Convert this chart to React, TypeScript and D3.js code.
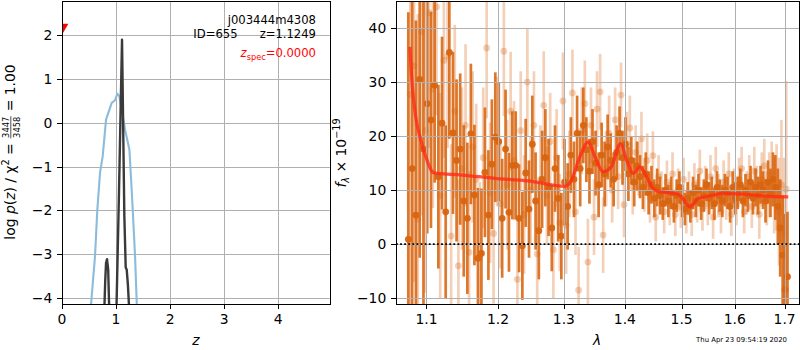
import React, { useEffect, useRef } from 'react';
import * as d3 from 'd3';

const W = 800;
const H = 350;
const FONT = 'DejaVu Sans, sans-serif';

// ---- left panel: p(z) ----
const zTicks = [0, 1, 2, 3, 4];
const logpTicks = [-4, -3, -2, -1, 0, 1, 2];

// chi2-based curve (light blue)
const chiZ = [0.52, 0.611, 0.654, 0.704, 0.753, 0.815, 0.92, 0.981, 1.025, 1.062, 1.105, 1.167, 1.247, 1.272, 1.309, 1.352, 1.392];
const chiLogP = [-4.4, -3.04, -1.98, -1.14, -0.77, 0.07, 0.45, 0.51, 0.66, 0.6, 0.3, -0.16, -0.61, -1.14, -1.98, -3.04, -4.4];

// full p(z) (dark)
const pzZ = [0.78, 0.8, 0.815, 0.833, 0.855, 0.877, 0.94, 1.005, 1.056, 1.111, 1.154, 1.179, 1.198, 1.22, 1.25, 1.3];
const pzLogP = [-4.4, -3.6, -3.2, -3.11, -3.35, -4.4, -9, -4.4, -1.52, 1.89, -2.13, -3.3, -3.35, -3.7, -4.4, -9];

const zSpec = 0;
const zSpecLogP = 2.17;

// ---- right panel: spectrum ----
const lamTicks = [1.1, 1.2, 1.3, 1.4, 1.5, 1.6, 1.7];
const fluxTicks = [-10, 0, 10, 20, 30, 40];

const darkWave = [
  1.076, 1.081, 1.086, 1.091, 1.096, 1.101, 1.106, 1.111, 1.116, 1.121, 1.126, 1.131, 1.136, 1.141, 1.146, 1.151,
  1.156, 1.161, 1.166, 1.171, 1.176, 1.181, 1.186, 1.191, 1.196, 1.201, 1.206, 1.211, 1.216, 1.221, 1.226, 1.231,
  1.236, 1.241, 1.246, 1.251, 1.256, 1.261, 1.266, 1.271, 1.276, 1.281, 1.286, 1.291, 1.296, 1.301, 1.306, 1.311,
  1.316, 1.321, 1.326, 1.331, 1.336, 1.341, 1.346, 1.351, 1.356, 1.361, 1.366, 1.371, 1.376, 1.381, 1.386, 1.391,
  1.396, 1.401, 1.406, 1.411, 1.416, 1.421, 1.426, 1.431, 1.436, 1.441, 1.446, 1.451, 1.456, 1.461, 1.466, 1.471,
  1.476, 1.481, 1.486, 1.491, 1.496, 1.501, 1.506, 1.511, 1.516, 1.521, 1.526, 1.531, 1.536, 1.541, 1.546, 1.551,
  1.556, 1.561, 1.566, 1.571, 1.576, 1.581, 1.586, 1.591, 1.596, 1.601, 1.606, 1.611, 1.616, 1.621, 1.626, 1.631,
  1.636, 1.641, 1.646, 1.651, 1.656, 1.661, 1.666, 1.671, 1.676, 1.681, 1.686, 1.691, 1.696, 1.701, 1.706,
];
const darkFlux = [
  0.9, 14.0, 5.4, 30.5, 17.6, 26.0, 23.0, 29.4, 12.5, 22.4, 6.0, 35.5, 20.6, 15.5, 17.6, 8.0,
  4.8, 20.4, 9.1, -2.6, -1.7, 13.3, 5.4, 14.8, 19.8, 19.0, 4.8, 17.6, 5.9, 14.6, 14.6, 4.8,
  -0.3, 13.2, 6.5, 18.5, 8.0, 2.5, 12.0, 16.0, 10.5, 3.0, 14.0, 8.5, 1.5, 11.5, 7.0, 16.5,
  12.0, 20.5, 14.0, 22.0, 17.5, 13.5, 19.0, 15.0, 11.0, 16.5, 13.0, 18.0, 15.5, 12.0, 17.0, 20.5,
  16.0, 18.5, 13.0, 15.5, 11.5, 14.5, 12.5, 10.5, 13.0, 9.5, 11.0, 8.5, 10.5, 9.0, 7.5, 10.0,
  8.0, 9.5, 7.0, 9.0, 10.5, 8.0, 6.5, 8.5, 7.0, 9.5, 8.0, 10.0, 7.5, 9.0, 11.0, 8.5,
  9.5, 7.5, 10.5, 9.0, 8.0, 10.0, 9.5, 7.0, 10.5, 8.5, 9.5, 11.0, 8.0, 10.0, 9.0, 11.5,
  8.5, 10.5, 9.0, 11.0, 10.0, 8.0, 11.5, 9.5, 12.0, 10.5, 7.0, 3.0, -2.0, -8.4, -6.0,
];
const darkErr = [
  42, 38, 36, 33, 30, 24, 20, 18, 17, 16, 16, 16, 15, 15, 14, 14,
  14, 13, 13, 13, 12, 12, 12, 12, 12, 11, 11, 11, 11, 10, 10, 10,
  10, 10, 9, 9, 9, 9, 9, 9, 9, 8, 8, 8, 8, 8, 8, 7,
  7, 7, 7, 7, 6, 6, 6, 6, 6, 6, 6, 6, 5, 5, 5, 5,
  5, 5, 5, 4.5, 4.5, 4.5, 4, 4, 4, 4, 3.5, 3.5, 3.5, 3.5, 3, 3,
  3, 3, 3, 3, 3, 3, 3, 3, 3, 3, 3, 3, 3, 3, 3, 3,
  3, 3, 3, 3, 3, 3, 3, 3, 3, 3, 3, 3, 3, 3, 3, 3,
  3, 3.5, 3.5, 3.5, 3.5, 4, 4, 4.5, 5, 6, 7, 9, 11, 14, 12,
];

const lightWave = [
  1.0785, 1.0835, 1.0885, 1.0935, 1.0985, 1.1035, 1.1085, 1.1135, 1.1185, 1.1235, 1.1285, 1.1335, 1.1385, 1.1435,
  1.1485, 1.1535, 1.1585, 1.1635, 1.1685, 1.1735, 1.1785, 1.1835, 1.1885, 1.1935, 1.1985, 1.2035, 1.2085, 1.2135,
  1.2185, 1.2235, 1.2285, 1.2335, 1.2385, 1.2435, 1.2485, 1.2535, 1.2585, 1.2635, 1.2685, 1.2735, 1.2785, 1.2835,
  1.2885, 1.2935, 1.2985, 1.3035, 1.3085, 1.3135, 1.3185, 1.3235, 1.3285, 1.3335, 1.3385, 1.3435, 1.3485, 1.3535,
  1.3585, 1.3635, 1.3685, 1.3735, 1.3785, 1.3835, 1.3885, 1.3935, 1.3985, 1.4035, 1.4085, 1.4135, 1.4185, 1.4235,
  1.4285, 1.4335, 1.4385, 1.4435, 1.4485, 1.4535, 1.4585, 1.4635, 1.4685, 1.4735, 1.4785, 1.4835, 1.4885, 1.4935,
  1.4985, 1.5035, 1.5085, 1.5135, 1.5185, 1.5235, 1.5285, 1.5335, 1.5385, 1.5435, 1.5485, 1.5535, 1.5585, 1.5635,
  1.5685, 1.5735, 1.5785, 1.5835, 1.5885, 1.5935, 1.5985, 1.6035, 1.6085, 1.6135, 1.6185, 1.6235, 1.6285, 1.6335,
  1.6385, 1.6435, 1.6485, 1.6535, 1.6585, 1.6635, 1.6685, 1.6735, 1.6785, 1.6835, 1.6885, 1.6935, 1.6985, 1.7035,
];
const lightFlux = [
  27.7, 33.0, 4.6, 39.3, 21.0, 42.8, 28.7, 43.9, 9.0, 34.0, 34.8, 1.5, 24.6, -4.0,
  14.0, 22.0, -1.5, 18.0, 12.0, -2.5, 16.0, 36.3, 9.5, 2.0, 19.0, 7.5, 35.7, 11.0,
  24.6, 15.5, -6.5, 21.0, 5.5, 30.0, 10.0, 22.0, -1.8, 12.0, 25.7, 9.0, 19.0, -1.0,
  16.0, 4.0, 26.5, 3.5, 13.0, 28.0, 6.0, -8.5, 21.0, 26.0, -3.3, 22.0, 5.0, 25.0,
  28.2, 1.7, 14.0, 20.5, 10.0, 23.0, 12.5, 27.6, 7.3, 18.5, 21.5, 10.5, 17.0, 14.0,
  19.5, 11.0, 15.5, 8.5, 16.4, 5.0, 12.5, 9.5, 6.0, 11.5, 7.5, 13.0, 5.5, 10.0,
  7.0, 12.0, 6.0, 9.5, 5.5, 11.0, 8.0, 13.5, 6.5, 10.5, 7.5, 12.5, 5.0, 14.0,
  9.0, 6.0, 11.5, 8.5, 13.0, 5.5, 10.0, 7.5, 12.0, 14.0, 6.0, 9.5, 12.5, 7.0,
  13.5, 10.0, 5.5, 12.0, 14.5, 8.5, 11.0, 13.0, 9.0, 10.5, 6.0, 11.0, 2.0, 10.2,
];
const lightErr = [
  45, 40, 38, 34, 30, 25, 22, 20, 19, 18, 17, 17, 16, 16,
  15, 15, 15, 14, 14, 14, 13, 13, 13, 13, 12, 12, 12, 12,
  11, 11, 11, 11, 11, 10, 10, 10, 10, 10, 10, 9, 9, 9,
  9, 9, 9, 9, 8, 8, 8, 8, 8, 8, 8, 7, 7, 7,
  7, 7, 7, 7, 6, 6, 6, 6, 6, 6, 6, 5, 5, 5,
  5, 5, 5, 4.5, 4.5, 4.5, 4, 4, 4, 4, 4, 4, 4, 4,
  4, 4, 4, 4, 4, 4, 4, 4, 4, 4, 4, 4, 4, 4,
  4, 4, 4, 4, 4, 4, 4, 4, 4, 4, 4, 4, 4, 4,
  4.5, 4.5, 4.5, 5, 5, 5, 6, 6, 7, 8, 10, 12, 14, 20,
];

// best-fit model
const modelWave = [
  1.078, 1.0813, 1.0857, 1.0924, 1.099, 1.11, 1.149, 1.195, 1.245, 1.302, 1.312, 1.3255, 1.339, 1.35, 1.3634, 1.377,
  1.3926, 1.4029, 1.414, 1.4258, 1.4344, 1.449, 1.4609, 1.4787, 1.4968, 1.515, 1.5305, 1.5587, 1.5746, 1.6168, 1.6632, 1.7075,
];
const modelFlux = [
  36.5, 29.1, 23.6, 19.3, 16.2, 13.2, 12.8, 12.2, 11.7, 10.7, 11.85, 16.2, 18.9, 16.2, 13.4, 14.3,
  18.6, 15.6, 13.1, 14.3, 13.1, 10.3, 9.7, 9.5, 9.07, 6.9, 8.46, 9.07, 9.4, 9.26, 8.9, 8.76,
];

const DARK = '#d8640f';
const RED = '#ff2a16';

type Run = { t?: string; size: number; italic?: boolean; dy?: number; num?: string; den?: string };

// lays out a mathtext-like label along the x axis of group g, centred on 0
function mathLabel(g: any, runs: Run[]) {
  const inner = g.append('g');
  let x = 0;
  runs.forEach((r) => {
    if (r.num) {
      const a = inner.append('text').attr('font-size', r.size).attr('y', -6).text(r.num);
      const b = inner.append('text').attr('font-size', r.size).attr('y', 4.8).text(r.den);
      const wa = a.node().getComputedTextLength();
      const wb = b.node().getComputedTextLength();
      const w = Math.max(wa, wb) + 2;
      a.attr('x', x + (w - wa) / 2);
      b.attr('x', x + (w - wb) / 2);
      inner.append('line').attr('x1', x + 0.5).attr('x2', x + w - 0.5).attr('y1', -4.2).attr('y2', -4.2)
        .attr('stroke', '#000').attr('stroke-width', 0.7);
      x += w;
    } else {
      const t = inner.append('text')
        .attr('x', x).attr('y', r.dy || 0)
        .attr('font-size', r.size)
        .attr('font-style', r.italic ? 'italic' : 'normal')
        .style('white-space', 'pre')
        .text(r.t);
      x += t.node().getComputedTextLength();
    }
  });
  inner.attr('transform', `translate(${-x / 2},0)`);
}

export default function App() {
  const ref = useRef<SVGSVGElement | null>(null);

  useEffect(() => {
    const svg = d3.select(ref.current);
    svg.selectAll('*').remove();
    svg.attr('font-family', FONT);

    const L = { x0: 62, x1: 330, y0: 1, y1: 304 };
    const R = { x0: 396, x1: 799, y0: 1, y1: 304 };

    const xZ = d3.scaleLinear().domain([0, 4.96]).range([L.x0, L.x1]);
    const yP = d3.scaleLinear().domain([-4.13, 2.77]).range([L.y1, L.y0]);
    const xW = d3.scaleLog().domain([1.06, 1.73]).range([R.x0, R.x1]);
    const yF = d3.scaleLinear().domain([-11.06, 45]).range([R.y1, R.y0]);

    const minus = (v: number) => (v < 0 ? '\u2212' + Math.abs(v) : String(v));

    const defs = svg.append('defs');
    const clip = (id: string, b: any) =>
      defs.append('clipPath').attr('id', id).append('rect')
        .attr('x', b.x0).attr('y', b.y0).attr('width', b.x1 - b.x0).attr('height', b.y1 - b.y0);
    clip('clipL', L);
    clip('clipR', R);

    const grid = (b: any, xs: number[], ys: number[], xs_: any, ys_: any) => {
      const g = svg.append('g').attr('stroke', '#b0b0b0').attr('stroke-width', 1).attr('shape-rendering', 'crispEdges');
      g.selectAll('.gx').data(xs).join('line')
        .attr('x1', (d) => Math.round(xs_(d))).attr('x2', (d) => Math.round(xs_(d)))
        .attr('y1', b.y0).attr('y2', b.y1);
      g.selectAll('.gy').data(ys).join('line')
        .attr('x1', b.x0).attr('x2', b.x1)
        .attr('y1', (d) => Math.round(ys_(d))).attr('y2', (d) => Math.round(ys_(d)));
    };

    const frame = (b: any, xs: number[], ys: number[], xs_: any, ys_: any, fx: any, fy: any) => {
      const g = svg.append('g');
      g.append('rect').attr('x', b.x0).attr('y', b.y0).attr('width', b.x1 - b.x0).attr('height', b.y1 - b.y0)
        .attr('fill', 'none').attr('stroke', '#000').attr('stroke-width', 1).attr('shape-rendering', 'crispEdges');
      const t = g.append('g').attr('stroke', '#000').attr('stroke-width', 1).attr('shape-rendering', 'crispEdges');
      t.selectAll('.tx').data(xs).join('line')
        .attr('x1', (d) => Math.round(xs_(d))).attr('x2', (d) => Math.round(xs_(d)))
        .attr('y1', b.y1).attr('y2', b.y1 + 4.9);
      t.selectAll('.ty').data(ys).join('line')
        .attr('x1', b.x0 - 4.9).attr('x2', b.x0)
        .attr('y1', (d) => Math.round(ys_(d))).attr('y2', (d) => Math.round(ys_(d)));
      g.selectAll('.lx').data(xs).join('text')
        .attr('x', (d) => xs_(d)).attr('y', 324).attr('text-anchor', 'middle')
        .attr('font-size', 13.9).text(fx);
      g.selectAll('.ly').data(ys).join('text')
        .attr('x', b.x0 - 9.7).attr('y', (d) => ys_(d) + 5).attr('text-anchor', 'end')
        .attr('font-size', 13.9).text(fy);
    };

    // ---------- left panel ----------
    grid(L, zTicks, logpTicks, xZ, yP);
    const gl = svg.append('g').attr('clip-path', 'url(#clipL)');
    const chiPts = chiZ.map((z, i) => [xZ(z), yP(chiLogP[i])] as [number, number]);
    const pzPts = pzZ.map((z, i) => [xZ(z), yP(pzLogP[i])] as [number, number]);
    gl.append('path').attr('d', d3.line()(chiPts)).attr('fill', 'none')
      .attr('stroke', '#8dbbdb').attr('stroke-width', 2.1).attr('stroke-linejoin', 'round');
    gl.append('path').attr('d', d3.line()(pzPts)).attr('fill', 'none')
      .attr('stroke', '#3a3a3a').attr('stroke-width', 2.4).attr('stroke-linejoin', 'round');
    gl.append('path')
      .attr('d', d3.symbol().type(d3.symbolTriangle).size(70)())
      .attr('transform', `translate(${xZ(zSpec)},${yP(zSpecLogP)}) rotate(180)`)
      .attr('fill', '#ff0000');
    frame(L, zTicks, logpTicks, xZ, yP, (d: number) => String(d), minus);

    const ann = svg.append('g').attr('text-anchor', 'end').attr('font-size', 11.6);
    ann.append('text').attr('x', 316).attr('y', 23.5).text('j003444m4308');
    ann.append('text').attr('x', 316).attr('y', 38).text('ID=655\u00a0\u00a0\u00a0\u00a0\u00a0\u00a0z=1.1249');
    const zs = ann.append('text').attr('x', 316).attr('y', 57).attr('fill', '#ff0000');
    zs.append('tspan').attr('font-style', 'italic').text('z');
    zs.append('tspan').attr('font-size', 8.2).attr('dy', 2.6).text('spec');
    zs.append('tspan').attr('dy', -2.6).text('=0.0000');

    svg.append('text').attr('x', 196).attr('y', 345).attr('text-anchor', 'middle')
      .attr('font-size', 13.9).attr('font-style', 'italic').text('z');
    const yl = svg.append('g').attr('transform', 'translate(15,152) rotate(-90)');
    mathLabel(yl, [
      { t: 'log ', size: 13.9 },
      { t: 'p', size: 13.9, italic: true },
      { t: '(', size: 13.9 },
      { t: 'z', size: 13.9, italic: true },
      { t: ') / \u03c7', size: 13.9 },
      { t: '2', size: 9.7, dy: -6 },
      { t: ' = ', size: 13.9 },
      { num: '3447', den: '3458', size: 8.3 },
      { t: ' = 1.00', size: 13.9 },
    ]);

    // ---------- right panel ----------
    const gr = svg.append('g').attr('clip-path', 'url(#clipR)');
    const errbars = (wave: number[], flux: number[], err: number[], op: number, mop: number) => {
      const g = gr.append('g');
      g.selectAll('line').data(wave).join('line')
        .attr('x1', (d) => xW(d)).attr('x2', (d) => xW(d))
        .attr('y1', (d, i) => yF(flux[i] - err[i])).attr('y2', (d, i) => yF(flux[i] + err[i]))
        .attr('stroke', DARK).attr('stroke-width', 2.7).attr('stroke-opacity', op);
      g.selectAll('circle').data(wave).join('circle')
        .attr('cx', (d) => xW(d)).attr('cy', (d, i) => yF(flux[i]))
        .attr('r', 3.4).attr('fill', DARK).attr('fill-opacity', mop);
    };
    errbars(lightWave, lightFlux, lightErr, 0.3, 0.3);
    errbars(darkWave, darkFlux, darkErr, 0.88, 0.95);

    grid(R, lamTicks, fluxTicks, xW, yF);

    const gr2 = svg.append('g').attr('clip-path', 'url(#clipR)');
    gr2.append('line').attr('x1', R.x0).attr('x2', R.x1).attr('y1', yF(0)).attr('y2', yF(0))
      .attr('stroke', '#000').attr('stroke-width', 1.8).attr('stroke-dasharray', '1.8,2.3');
    const modelLine = d3.line<number>()
      .x((d) => xW(d))
      .y((d, i) => yF(modelFlux[i]))
      .curve(d3.curveMonotoneX);
    gr2.append('path').attr('d', modelLine(modelWave)).attr('fill', 'none')
      .attr('stroke', RED).attr('stroke-width', 3.3).attr('stroke-opacity', 0.8)
      .attr('stroke-linejoin', 'round');

    frame(R, lamTicks, fluxTicks, xW, yF, (d: number) => d.toFixed(1), minus);

    svg.append('text').attr('x', 597).attr('y', 345).attr('text-anchor', 'middle')
      .attr('font-size', 13.9).attr('font-style', 'italic').text('\u03bb');
    const yr = svg.append('g').attr('transform', 'translate(345.5,153) rotate(-90)');
    mathLabel(yr, [
      { t: 'f', size: 13.9, italic: true },
      { t: '\u03bb', size: 9.7, italic: true, dy: 3 },
      { t: ' \u00d7 10', size: 13.9 },
      { t: '\u221219', size: 9.7, dy: -6 },
    ]);

    svg.append('text').attr('x', 787).attr('y', 342).attr('text-anchor', 'end')
      .attr('font-size', 6.9).text('Thu Apr 23 09:54:19 2020');
  }, []);

  return (
    <svg
      ref={ref}
      width={W}
      height={H}
      style={{ position: 'absolute', left: 0, top: 0, background: '#fff' }}
    />
  );
}
